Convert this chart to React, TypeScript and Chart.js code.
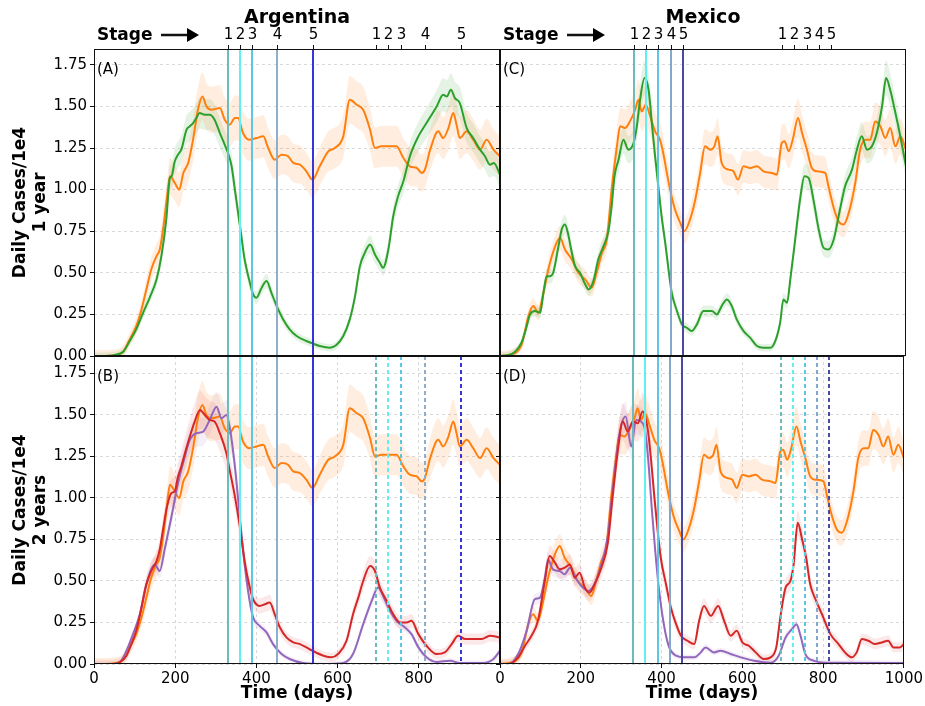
import { useEffect, useRef } from 'react';
import { Chart, registerables } from 'chart.js';

Chart.register(...registerables);
Chart.defaults.font.family = "'DejaVu Sans', 'Liberation Sans', sans-serif";

// ---------------- data ----------------
const argOrangeDays = [0, 40, 60, 72, 88, 104, 117, 129, 141, 154, 162, 170, 180, 187, 199, 210, 220, 232, 244, 256, 267, 277, 289, 310, 322, 334, 347, 355, 367, 382, 400, 417, 429, 445, 462, 478, 491, 507, 523, 538, 556, 577, 593, 614, 630, 647, 663, 680, 692, 708, 729, 745, 762, 778, 795, 807, 815, 828, 848, 860, 873, 885, 893, 901, 918, 934, 951, 967, 984, 1000];
const argOrangeVals = [0, 0.002, 0.01, 0.026, 0.10, 0.18, 0.28, 0.40, 0.52, 0.60, 0.64, 0.76, 0.96, 1.08, 1.04, 1.00, 1.10, 1.16, 1.30, 1.48, 1.56, 1.50, 1.48, 1.49, 1.42, 1.39, 1.43, 1.43, 1.34, 1.30, 1.31, 1.32, 1.25, 1.18, 1.21, 1.20, 1.16, 1.15, 1.11, 1.06, 1.14, 1.23, 1.25, 1.32, 1.54, 1.51, 1.48, 1.36, 1.25, 1.26, 1.26, 1.26, 1.19, 1.14, 1.13, 1.10, 1.12, 1.24, 1.35, 1.31, 1.37, 1.46, 1.39, 1.31, 1.35, 1.30, 1.24, 1.30, 1.24, 1.20];

const argGreenDays = [0, 40, 51, 72, 88, 104, 121, 137, 154, 166, 178, 187, 191, 199, 207, 215, 228, 236, 244, 252, 260, 273, 285, 297, 310, 322, 330, 339, 347, 355, 363, 371, 382, 392, 400, 413, 425, 437, 450, 466, 482, 499, 523, 538, 556, 581, 597, 614, 630, 643, 655, 667, 680, 692, 704, 712, 725, 737, 749, 762, 778, 799, 819, 844, 860, 869, 879, 889, 901, 918, 934, 951, 963, 975, 985, 1000];
const argGreenVals = [0, 0.002, 0.006, 0.026, 0.09, 0.16, 0.26, 0.35, 0.46, 0.60, 0.82, 1.07, 1.08, 1.17, 1.21, 1.24, 1.36, 1.38, 1.40, 1.43, 1.46, 1.45, 1.45, 1.42, 1.34, 1.27, 1.22, 1.14, 1.00, 0.86, 0.72, 0.58, 0.46, 0.37, 0.35, 0.41, 0.45, 0.38, 0.30, 0.22, 0.16, 0.12, 0.09, 0.076, 0.06, 0.05, 0.066, 0.12, 0.22, 0.36, 0.54, 0.62, 0.67, 0.61, 0.56, 0.53, 0.64, 0.84, 0.96, 1.05, 1.20, 1.32, 1.40, 1.50, 1.57, 1.56, 1.60, 1.55, 1.52, 1.37, 1.31, 1.24, 1.20, 1.15, 1.16, 1.09];

const argRedDays = [0, 39, 63, 80, 92, 104, 117, 129, 141, 154, 162, 170, 180, 191, 199, 207, 215, 224, 236, 248, 261, 273, 285, 297, 310, 326, 334, 347, 359, 371, 382, 392, 408, 421, 433, 445, 458, 474, 491, 507, 523, 538, 565, 585, 601, 622, 638, 651, 663, 680, 692, 704, 721, 737, 754, 770, 782, 799, 819, 844, 864, 881, 897, 914, 934, 955, 975, 1000];
const argRedVals = [0, 0, 0.01, 0.05, 0.12, 0.20, 0.34, 0.48, 0.56, 0.62, 0.69, 0.81, 0.95, 1.03, 1.04, 1.13, 1.19, 1.27, 1.37, 1.46, 1.53, 1.50, 1.47, 1.46, 1.39, 1.27, 1.17, 1.01, 0.83, 0.62, 0.48, 0.39, 0.35, 0.36, 0.37, 0.30, 0.22, 0.16, 0.13, 0.12, 0.10, 0.08, 0.05, 0.04, 0.06, 0.14, 0.30, 0.40, 0.50, 0.59, 0.56, 0.46, 0.38, 0.30, 0.25, 0.25, 0.26, 0.18, 0.11, 0.06, 0.07, 0.12, 0.17, 0.15, 0.15, 0.15, 0.17, 0.16];

const argPurpleDays = [0, 40, 63, 80, 96, 113, 129, 150, 162, 174, 191, 207, 224, 236, 252, 269, 285, 302, 314, 326, 334, 347, 359, 371, 382, 392, 408, 425, 441, 462, 482, 515, 565, 614, 638, 663, 684, 700, 712, 729, 745, 766, 782, 799, 819, 844, 877, 901, 959, 984, 1000];
const argPurpleVals = [0, 0, 0.01, 0.08, 0.18, 0.30, 0.48, 0.60, 0.56, 0.69, 0.89, 1.09, 1.25, 1.35, 1.39, 1.40, 1.47, 1.55, 1.48, 1.50, 1.43, 1.19, 0.89, 0.60, 0.40, 0.28, 0.23, 0.19, 0.12, 0.06, 0.03, 0.006, 0, 0.006, 0.06, 0.24, 0.38, 0.46, 0.41, 0.32, 0.26, 0.22, 0.18, 0.10, 0.04, 0.012, 0.02, 0.006, 0.006, 0.03, 0.08];

const mexOrangeDays = [0, 21, 53, 70, 82, 94, 107, 119, 136, 148, 160, 177, 193, 210, 226, 238, 251, 263, 275, 288, 296, 308, 320, 333, 341, 349, 359, 370, 382, 394, 402, 411, 419, 431, 444, 454, 468, 481, 493, 505, 518, 528, 536, 546, 563, 575, 586, 600, 616, 633, 649, 670, 682, 694, 701, 711, 721, 734, 744, 756, 768, 781, 801, 809, 822, 834, 846, 859, 875, 887, 900, 912, 924, 937, 949, 961, 974, 986, 1000];
const mexOrangeVals = [0, 0.006, 0.066, 0.24, 0.30, 0.26, 0.38, 0.52, 0.66, 0.71, 0.64, 0.58, 0.50, 0.46, 0.41, 0.50, 0.62, 0.70, 1.00, 1.26, 1.38, 1.37, 1.41, 1.48, 1.54, 1.47, 1.51, 1.44, 1.35, 1.30, 1.22, 1.10, 1.00, 0.88, 0.80, 0.75, 0.82, 0.94, 1.10, 1.26, 1.24, 1.26, 1.32, 1.16, 1.12, 1.11, 1.06, 1.14, 1.13, 1.14, 1.11, 1.10, 1.09, 1.28, 1.29, 1.23, 1.30, 1.43, 1.34, 1.24, 1.13, 1.11, 1.10, 1.02, 0.89, 0.81, 0.79, 0.86, 1.04, 1.24, 1.30, 1.30, 1.41, 1.38, 1.31, 1.37, 1.26, 1.32, 1.24];

const mexGreenDays = [0, 21, 37, 53, 66, 74, 86, 99, 107, 115, 123, 131, 144, 152, 160, 167, 177, 185, 197, 210, 218, 230, 242, 255, 267, 275, 282, 292, 304, 316, 329, 337, 345, 356, 366, 374, 382, 390, 398, 407, 415, 423, 436, 448, 460, 472, 485, 501, 514, 522, 534, 546, 559, 571, 583, 600, 616, 633, 649, 666, 678, 690, 698, 707, 715, 727, 739, 750, 760, 772, 785, 797, 809, 822, 834, 850, 867, 879, 891, 904, 916, 928, 941, 951, 961, 974, 986, 1000];
const mexGreenVals = [0, 0.006, 0.026, 0.08, 0.18, 0.25, 0.27, 0.26, 0.38, 0.48, 0.48, 0.50, 0.66, 0.76, 0.79, 0.74, 0.62, 0.54, 0.50, 0.43, 0.40, 0.45, 0.58, 0.66, 0.75, 0.90, 1.08, 1.18, 1.30, 1.24, 1.28, 1.38, 1.54, 1.67, 1.60, 1.40, 1.20, 1.02, 0.84, 0.68, 0.52, 0.38, 0.27, 0.19, 0.17, 0.15, 0.19, 0.27, 0.27, 0.27, 0.25, 0.30, 0.34, 0.30, 0.22, 0.15, 0.11, 0.06, 0.05, 0.05, 0.09, 0.20, 0.34, 0.32, 0.46, 0.70, 0.94, 1.08, 1.07, 0.94, 0.76, 0.65, 0.64, 0.70, 0.84, 1.02, 1.12, 1.24, 1.32, 1.24, 1.26, 1.34, 1.50, 1.67, 1.60, 1.46, 1.32, 1.14];

const mexRedDays = [0, 21, 45, 62, 78, 94, 111, 123, 136, 148, 160, 173, 185, 197, 210, 222, 234, 251, 267, 279, 292, 304, 316, 329, 341, 353, 366, 374, 382, 390, 398, 411, 423, 436, 448, 464, 481, 493, 505, 522, 540, 555, 571, 586, 600, 616, 633, 653, 670, 684, 694, 707, 719, 727, 737, 748, 758, 768, 781, 797, 818, 838, 854, 871, 883, 896, 912, 928, 945, 961, 974, 990, 1000];
const mexRedVals = [0, 0, 0.04, 0.11, 0.17, 0.26, 0.50, 0.65, 0.61, 0.57, 0.58, 0.60, 0.52, 0.55, 0.46, 0.43, 0.48, 0.58, 0.73, 1.01, 1.29, 1.46, 1.40, 1.46, 1.45, 1.52, 1.41, 1.23, 1.01, 0.81, 0.64, 0.48, 0.34, 0.24, 0.17, 0.14, 0.12, 0.26, 0.35, 0.29, 0.35, 0.26, 0.17, 0.20, 0.13, 0.11, 0.07, 0.03, 0.04, 0.10, 0.28, 0.46, 0.50, 0.60, 0.85, 0.75, 0.64, 0.48, 0.39, 0.30, 0.18, 0.12, 0.07, 0.04, 0.07, 0.15, 0.14, 0.12, 0.13, 0.14, 0.10, 0.10, 0.12];

const mexPurpleDays = [0, 21, 45, 66, 86, 99, 111, 119, 131, 148, 160, 173, 189, 205, 218, 234, 251, 267, 279, 296, 311, 325, 337, 349, 359, 367, 376, 384, 394, 407, 419, 436, 456, 481, 497, 509, 530, 546, 571, 596, 629, 670, 690, 707, 723, 734, 744, 756, 776, 809, 1000];
const mexPurpleVals = [0, 0, 0.06, 0.20, 0.39, 0.40, 0.52, 0.63, 0.57, 0.56, 0.54, 0.58, 0.51, 0.46, 0.44, 0.48, 0.60, 0.77, 1.05, 1.39, 1.49, 1.31, 1.47, 1.46, 1.41, 1.23, 0.93, 0.69, 0.44, 0.22, 0.10, 0.05, 0.04, 0.04, 0.07, 0.10, 0.07, 0.08, 0.06, 0.04, 0.02, 0.008, 0.05, 0.16, 0.21, 0.24, 0.17, 0.06, 0.02, 0.008, 0.006];

const argStages = [330, 360, 390, 450, 540];
const argStagesNext = [695, 725, 755, 815, 905];
const mexStages = [330, 360, 390, 420, 450];
const mexStagesNext = [695, 725, 755, 785, 815];
const stageLabels = ['1', '2', '3', '4', '5'];
const yTickValues = [0, 0.25, 0.5, 0.75, 1.0, 1.25, 1.5, 1.75];
const xTickValues = [0, 200, 400, 600, 800, 1000];

// ---------------- styles ----------------
const ORANGE = '#ff7f0e';
const GREEN = '#2ca02c';
const RED = '#d62728';
const PURPLE = '#9467bd';
const argStageColors = ['#6bbcbc', '#62efef', '#5cc6e4', '#8eaecb', '#3535d8'];
const mexStageColors = ['#6bbcbc', '#62efef', '#5cc6e4', '#84a8cc', '#4a4aa6'];

type Series = { days: number[]; vals: number[]; color: string; fill: string; bandAbs: number; bandRel: number; order: number };

function seriesDatasets(s: Series) {
  const line = {
    type: 'line',
    data: s.days.map((d, i) => ({ x: d, y: s.vals[i] })),
    borderColor: s.color,
    borderWidth: 2,
    pointRadius: 0,
    fill: false,
    cubicInterpolationMode: 'monotone',
    order: s.order,
  };
  const lower = {
    type: 'line',
    data: s.days.map((d, i) => ({ x: d, y: Math.max(0, s.vals[i] - (s.bandAbs + s.bandRel * s.vals[i])) })),
    borderWidth: 0,
    borderColor: 'rgba(0,0,0,0)',
    pointRadius: 0,
    fill: false,
    cubicInterpolationMode: 'monotone',
    order: 20,
  };
  const upper = {
    type: 'line',
    data: s.days.map((d, i) => ({ x: d, y: s.vals[i] + (s.bandAbs + s.bandRel * s.vals[i]) })),
    borderWidth: 0,
    borderColor: 'rgba(0,0,0,0)',
    backgroundColor: s.fill,
    pointRadius: 0,
    fill: '-1',
    cubicInterpolationMode: 'monotone',
    order: 20,
  };
  return { line, band: [lower, upper] };
}

type PanelOpts = {
  left: boolean;
  top: boolean;
  series: Series[];
  stages: number[];
  next: number[];
  colors: string[];
  letter: string;
  title: string;
  ymax: number;
};

const decorPlugin = {
  id: 'decor',
  afterDatasetsDraw(chart: any, _args: any, o: any) {
    const { ctx, chartArea: a } = chart;
    const x = chart.scales.x;
    ctx.save();
    ctx.beginPath();
    ctx.rect(a.left, a.top, a.right - a.left, a.bottom - a.top);
    ctx.clip();
    ctx.lineWidth = 2;
    o.stages.forEach((d: number, i: number) => {
      const px = Math.round(x.getPixelForValue(d));
      ctx.strokeStyle = o.colors[i];
      ctx.setLineDash([]);
      ctx.beginPath();
      ctx.moveTo(px, a.top);
      ctx.lineTo(px, a.bottom);
      ctx.stroke();
    });
    if (!o.top) {
      o.next.forEach((d: number, i: number) => {
        const px = Math.round(x.getPixelForValue(d));
        ctx.strokeStyle = o.colors[i];
        ctx.setLineDash([4, 3]);
        ctx.beginPath();
        ctx.moveTo(px, a.top);
        ctx.lineTo(px, a.bottom);
        ctx.stroke();
      });
    }
    ctx.restore();
  },
  afterDraw(chart: any, _args: any, o: any) {
    const { ctx, chartArea: a } = chart;
    const x = chart.scales.x;
    ctx.save();
    ctx.setLineDash([]);
    ctx.strokeStyle = '#111';
    ctx.lineWidth = 1;
    ctx.strokeRect(Math.round(a.left) + 0.5, Math.round(a.top) + 0.5, Math.round(a.right - a.left) - 1, Math.round(a.bottom - a.top) - 1);

    ctx.fillStyle = '#000';
    ctx.font = "15px 'DejaVu Sans'";
    ctx.textAlign = 'left';
    ctx.textBaseline = 'alphabetic';
    ctx.fillText(o.letter, a.left + 3, a.top + 25);

    if (o.top) {
      const cx = (a.left + a.right) / 2;
      ctx.font = "bold 19px 'DejaVu Sans'";
      ctx.textAlign = 'center';
      ctx.fillText(o.title, cx, 23);

      const all = [...o.stages, ...o.next];
      ctx.strokeStyle = '#111';
      ctx.lineWidth = 1;
      ctx.font = "15px 'DejaVu Sans'";
      all.forEach((d: number, i: number) => {
        const px = Math.round(x.getPixelForValue(d)) + 0.5;
        ctx.beginPath();
        ctx.moveTo(px, a.top);
        ctx.lineTo(px, a.top - 4);
        ctx.stroke();
        ctx.fillText(stageLabels[i % 5], px, a.top - 10);
      });

      ctx.font = "bold 17px 'DejaVu Sans'";
      ctx.textAlign = 'left';
      ctx.fillText('Stage', a.left + 3, 40);
      const ay = 35;
      ctx.lineWidth = 2.5;
      ctx.beginPath();
      ctx.moveTo(a.left + 67, ay);
      ctx.lineTo(a.left + 95, ay);
      ctx.stroke();
      ctx.beginPath();
      ctx.moveTo(a.left + 93, ay - 7);
      ctx.lineTo(a.left + 105, ay);
      ctx.lineTo(a.left + 93, ay + 7);
      ctx.closePath();
      ctx.fill();
    }
    ctx.restore();
  },
};

function makeConfig(p: PanelOpts): any {
  const lines: any[] = [];
  const bands: any[] = [];
  p.series.forEach((s) => {
    const r = seriesDatasets(s);
    lines.push(r.line);
    bands.push(...r.band);
  });
  const chartLeft = p.left ? 94 : 500;
  const chartRight = p.left ? 500 : 906;
  const chartTop = p.top ? 49 : 356;
  const chartBottom = p.top ? 356 : 664;
  const yW = p.left ? 94 : 6;
  const xH = p.top ? 0 : 42;
  return {
    type: 'line',
    data: { datasets: [...bands, ...lines] },
    plugins: [decorPlugin],
    options: {
      animation: false,
      responsive: false,
      devicePixelRatio: 1,
      events: [],
      layout: {
        padding: {
          left: chartLeft - yW,
          right: 925 - chartRight,
          top: chartTop,
          bottom: 706 - chartBottom - xH,
        },
      },
      plugins: {
        legend: { display: false },
        tooltip: { enabled: false },
        title: { display: false },
        decor: {
          top: p.top,
          stages: p.stages,
          next: p.next,
          colors: p.colors,
          letter: p.letter,
          title: p.title,
        },
      },
      scales: {
        x: {
          type: 'linear',
          position: 'bottom',
          min: 0,
          max: 1000,
          afterBuildTicks: (s: any) => {
            s.ticks = xTickValues.map((v) => ({ value: v }));
          },
          afterFit: (s: any) => {
            s.height = xH;
          },
          ticks: {
            display: !p.top,
            autoSkip: false,
            maxRotation: 0,
            font: { size: 15 },
            color: '#000',
            padding: 2,
            callback: (v: any) => (p.left && v === 1000 ? '' : String(v)),
          },
          grid: {
            display: !p.top,
            color: 'rgba(0,0,0,0.15)',
            lineWidth: 1,
            drawTicks: true,
            tickLength: 4,
            tickColor: '#111',
            tickWidth: 1,
            tickBorderDash: [],
          },
          border: { display: false, dash: [3, 3] },
          title: {
            display: !p.top,
            text: 'Time (days)',
            color: '#000',
            font: { size: 17, weight: 'bold' },
            padding: { top: 0, bottom: 2 },
          },
        },
        y: {
          type: 'linear',
          position: 'left',
          min: 0,
          max: p.ymax,
          afterBuildTicks: (s: any) => {
            s.ticks = yTickValues.map((v) => ({ value: v }));
          },
          afterFit: (s: any) => {
            s.width = yW;
          },
          ticks: {
            display: p.left,
            font: { size: 15 },
            color: '#000',
            padding: 3,
            callback: (v: any) => Number(v).toFixed(2),
          },
          grid: {
            display: true,
            color: 'rgba(0,0,0,0.15)',
            lineWidth: 1,
            drawTicks: true,
            tickLength: 4,
            tickColor: '#111',
            tickWidth: 1,
            tickBorderDash: [],
          },
          border: { display: false, dash: [3, 3] },
          title: {
            display: p.left,
            text: ['Daily Cases/1e4', p.top ? '1 year' : '2 years'],
            color: '#000',
            font: { size: 17, weight: 'bold' },
            padding: { top: 10, bottom: 0 },
          },
        },
      },
    },
  };
}

const argOrange: Series = { days: argOrangeDays, vals: argOrangeVals, color: ORANGE, fill: 'rgba(255,127,14,0.13)', bandAbs: 0.035, bandRel: 0.07, order: 4 };
const argGreen: Series = { days: argGreenDays, vals: argGreenVals, color: GREEN, fill: 'rgba(44,160,44,0.12)', bandAbs: 0.02, bandRel: 0.05, order: 2 };
const argRed: Series = { days: argRedDays, vals: argRedVals, color: RED, fill: 'rgba(214,39,40,0.10)', bandAbs: 0.025, bandRel: 0.06, order: 2 };
const argPurple: Series = { days: argPurpleDays, vals: argPurpleVals, color: PURPLE, fill: 'rgba(148,103,189,0.10)', bandAbs: 0.015, bandRel: 0.05, order: 3 };
const mexOrange: Series = { days: mexOrangeDays, vals: mexOrangeVals, color: ORANGE, fill: 'rgba(255,127,14,0.13)', bandAbs: 0.03, bandRel: 0.06, order: 4 };
const mexGreen: Series = { days: mexGreenDays, vals: mexGreenVals, color: GREEN, fill: 'rgba(44,160,44,0.12)', bandAbs: 0.02, bandRel: 0.05, order: 2 };
const mexRed: Series = { days: mexRedDays, vals: mexRedVals, color: RED, fill: 'rgba(214,39,40,0.10)', bandAbs: 0.025, bandRel: 0.06, order: 2 };
const mexPurple: Series = { days: mexPurpleDays, vals: mexPurpleVals, color: PURPLE, fill: 'rgba(148,103,189,0.10)', bandAbs: 0.015, bandRel: 0.05, order: 3 };

const panels: PanelOpts[] = [
  { left: true, top: true, series: [argOrange, argGreen], stages: argStages, next: argStagesNext, colors: argStageColors, letter: '(A)', title: 'Argentina', ymax: 1.845 },
  { left: true, top: false, series: [argOrange, argRed, argPurple], stages: argStages, next: argStagesNext, colors: argStageColors, letter: '(B)', title: '', ymax: 1.855 },
  { left: false, top: true, series: [mexOrange, mexGreen], stages: mexStages, next: mexStagesNext, colors: mexStageColors, letter: '(C)', title: 'Mexico', ymax: 1.845 },
  { left: false, top: false, series: [mexOrange, mexRed, mexPurple], stages: mexStages, next: mexStagesNext, colors: mexStageColors, letter: '(D)', title: '', ymax: 1.855 },
];

function Panel({ opts }: { opts: PanelOpts }) {
  const ref = useRef<HTMLCanvasElement | null>(null);
  useEffect(() => {
    if (!ref.current) return;
    const chart = new Chart(ref.current, makeConfig(opts));
    return () => chart.destroy();
  }, [opts]);
  return (
    <canvas
      ref={ref}
      width={925}
      height={706}
      style={{ position: 'absolute', left: 0, top: 0, width: 925, height: 706 }}
    />
  );
}

export default function App() {
  return (
    <div style={{ position: 'fixed', left: 0, top: 0, width: 925, height: 706, background: '#fff', overflow: 'hidden' }}>
      {panels.map((p, i) => (
        <Panel key={i} opts={p} />
      ))}
    </div>
  );
}
